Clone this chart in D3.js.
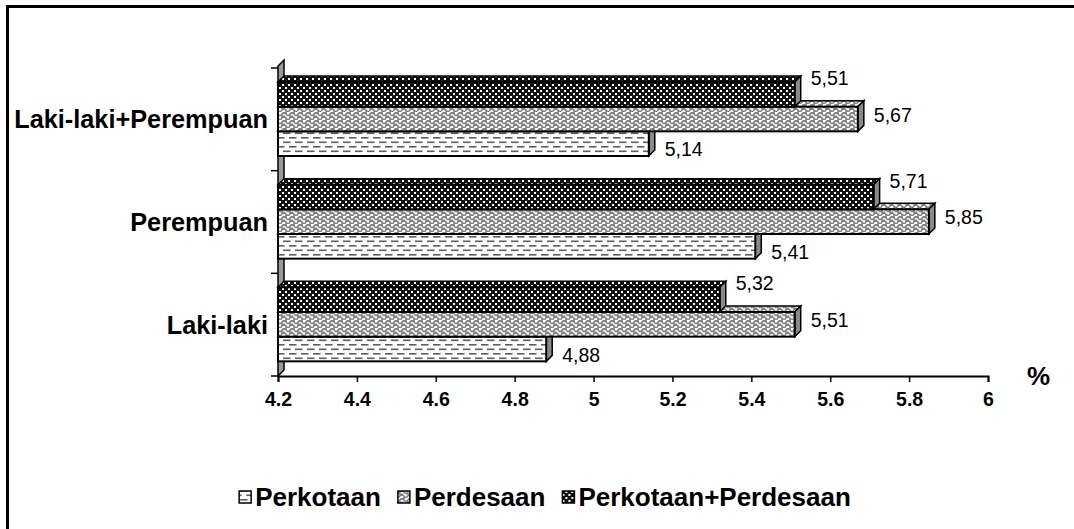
<!DOCTYPE html>
<html>
<head>
<meta charset="utf-8">
<script src="https://cdn.jsdelivr.net/npm/d3@7"></script>
<style>
  body { margin: 0; background: #fff; }
  svg { display: block; font-family: "Liberation Sans", Arial, sans-serif; }
</style>
</head>
<body>
<svg id="chart" width="1074" height="529"></svg>
<script>
// data
var categories = ["Laki-laki+Perempuan", "Perempuan", "Laki-laki"];
var seriesNames = ["Perkotaan", "Perdesaan", "Perkotaan+Perdesaan"];
var perkotaan = [5.14, 5.41, 4.88];
var perdesaan = [5.67, 5.85, 5.51];
var gabungan = [5.51, 5.71, 5.32];
var xTicks = [4.2, 4.4, 4.6, 4.8, 5, 5.2, 5.4, 5.6, 5.8, 6];

var values = [perkotaan, perdesaan, gabungan];

var svg = d3.select("#chart");
var width = 1074, height = 529;
var depth = 6;

var defs = svg.append("defs");

// Perkotaan: white with grey dashes
var p1 = defs.append("pattern").attr("id", "pat0")
    .attr("patternUnits", "userSpaceOnUse").attr("width", 12).attr("height", 9);
p1.append("rect").attr("width", 12).attr("height", 9).attr("fill", "#fff");
p1.append("rect").attr("x", 1).attr("y", 2).attr("width", 7.5).attr("height", 1.6).attr("fill", "#5e5e5e");
p1.append("rect").attr("x", 7).attr("y", 6.5).attr("width", 5).attr("height", 1.6).attr("fill", "#5e5e5e");
p1.append("rect").attr("x", 0).attr("y", 6.5).attr("width", 2.5).attr("height", 1.6).attr("fill", "#5e5e5e");

// Perdesaan: grey weave
var p2 = defs.append("pattern").attr("id", "pat1")
    .attr("patternUnits", "userSpaceOnUse").attr("width", 8).attr("height", 8);
p2.append("rect").attr("width", 8).attr("height", 8).attr("fill", "#fff");
p2.append("path").attr("d", "M0,4 L4,0 L8,4 M0,8 L4,4 L8,8 M2,2 L2,6 M6,6 L6,8 M6,0 L6,2")
    .attr("stroke", "#808080").attr("stroke-width", 1.5).attr("fill", "none");

// Perkotaan+Perdesaan: black with white dots
var p3 = defs.append("pattern").attr("id", "pat2")
    .attr("patternUnits", "userSpaceOnUse").attr("width", 6).attr("height", 6);
p3.append("rect").attr("width", 6).attr("height", 6).attr("fill", "#111");
p3.append("rect").attr("x", 0).attr("y", 0).attr("width", 2).attr("height", 2).attr("fill", "#fff");
p3.append("rect").attr("x", 3).attr("y", 3).attr("width", 2).attr("height", 2).attr("fill", "#fff");

// frame
svg.append("path")
    .attr("d", "M7.5," + height + " L7.5,6.5 L" + width + ",6.5")
    .attr("fill", "none").attr("stroke", "#000").attr("stroke-width", 3);

var x = d3.scaleLinear().domain([4.2, 6]).range([278, 988]);
var y = d3.scaleBand().domain(categories).range([68, 376]);
var yInner = d3.scaleBand().domain([2, 1, 0]).range([14, 88]);

// side wall
var x0 = x(4.2);
svg.append("path")
    .attr("d", "M" + x0 + ",376 L" + x0 + ",66 L" + (x0 + depth) + "," + (60) + " L" + (x0 + depth) + "," + (376 - depth) + " Z")
    .attr("fill", "#999").attr("stroke", "#000").attr("stroke-width", 1.5);

// y axis ticks
var yEdges = categories.map(function (c) { return y(c); }).concat([376]);
svg.selectAll(".ytick").data(yEdges).enter().append("line")
    .attr("x1", x0 - 7).attr("x2", x0)
    .attr("y1", function (d) { return d; }).attr("y2", function (d) { return d; })
    .attr("stroke", "#000").attr("stroke-width", 1.5);

// x axis
var xAxis = svg.append("g")
    .attr("transform", "translate(0,376)")
    .call(d3.axisBottom(x).tickValues(xTicks).tickSize(6).tickPadding(10)
        .tickFormat(function (d) { return String(+d.toFixed(1)); }));
xAxis.select(".domain").attr("stroke-width", 2);
xAxis.selectAll(".tick line").attr("stroke-width", 1.5);
xAxis.selectAll("text")
    .attr("font-family", "Liberation Sans, Arial, sans-serif")
    .attr("font-size", 19.5).attr("font-weight", "bold").attr("fill", "#000");

// bars
var bars = [];
categories.forEach(function (c, ci) {
    [0, 1, 2].forEach(function (si) {
        bars.push({ cat: c, s: si, v: values[si][ci] });
    });
});

var bh = yInner.bandwidth();
var g = svg.append("g");
bars.forEach(function (b) {
    var top = y(b.cat) + yInner(b.s);
    var xe = x(b.v);
    var gb = g.append("g");
    // top face
    gb.append("path")
        .attr("d", "M" + x0 + "," + top + " L" + (x0 + depth) + "," + (top - depth) + " L" + (xe + depth) + "," + (top - depth) + " L" + xe + "," + top + " Z")
        .attr("fill", "url(#pat" + b.s + ")").attr("stroke", "#000").attr("stroke-width", 1.5);
    // end face
    gb.append("path")
        .attr("d", "M" + xe + "," + top + " L" + (xe + depth) + "," + (top - depth) + " L" + (xe + depth) + "," + (top + bh - depth) + " L" + xe + "," + (top + bh) + " Z")
        .attr("fill", "#8a8a8a").attr("stroke", "#000").attr("stroke-width", 1.5);
    // front face
    gb.append("rect")
        .attr("x", x0).attr("y", top).attr("width", xe - x0).attr("height", bh)
        .attr("fill", "url(#pat" + b.s + ")").attr("stroke", "#000").attr("stroke-width", 2);
});

// value labels
var labelDy = [6, -4, -16];
svg.selectAll(".val").data(bars).enter().append("text")
    .attr("x", function (d) { return x(d.v) + depth + 10; })
    .attr("y", function (d) { return y(d.cat) + yInner(d.s) + bh / 2 + labelDy[d.s]; })
    .attr("dy", "0.35em")
    .attr("font-size", 19.5).attr("fill", "#000")
    .text(function (d) { return d.v.toFixed(2).replace(".", ","); });

// category labels
svg.selectAll(".cat").data(categories).enter().append("text")
    .attr("x", 268)
    .attr("y", function (d) { return y(d) + y.bandwidth() / 2; })
    .attr("dy", "0.35em")
    .attr("text-anchor", "end")
    .attr("font-size", 25.3).attr("font-weight", "bold")
    .text(function (d) { return d; });

svg.append("text").attr("x", 1027).attr("y", 385)
    .attr("font-size", 26).attr("font-weight", "bold").text("%");

// legend
var legend = svg.append("g");
var lx = 0;
seriesNames.forEach(function (name, i) {
    var item = legend.append("g").attr("transform", "translate(" + lx + ",0)");
    item.append("rect").attr("x", 0).attr("y", -15).attr("width", 12).attr("height", 12)
        .attr("fill", "url(#pat" + i + ")").attr("stroke", "#000").attr("stroke-width", 1.5);
    var t = item.append("text").attr("x", 16).attr("y", 0)
        .attr("font-size", 26).attr("font-weight", "bold").text(name);
    lx += 16 + t.node().getComputedTextLength() + 17;
});
legend.attr("transform", "translate(" + (545 - (lx - 17) / 2) + ",506)");
</script>
</body>
</html>
